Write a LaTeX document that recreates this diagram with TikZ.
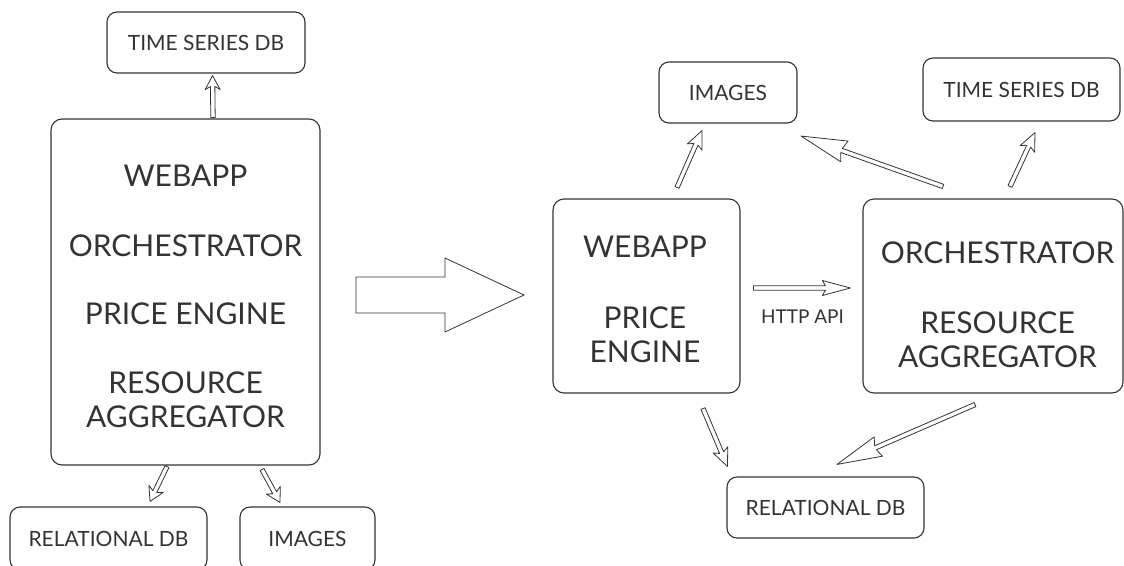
\documentclass[tikz,border=0pt]{standalone}
\usepackage{fontspec}
\setmainfont{Lato}
\usetikzlibrary{calc}
\definecolor{ink}{HTML}{333333}
\tikzset{
  box/.style={draw=ink, line width=1.1pt, rounded corners=11pt, inner sep=0pt},
  smallbox/.style={draw=ink, line width=1.1pt, rounded corners=10pt, text=ink,
    align=center, inner sep=0pt, font=\fontsize{21}{25}\selectfont},
  bigtext/.style={text=ink, align=center, inner sep=0pt,
    font=\fontsize{30}{34}\selectfont},
  flowline/.style={draw=ink, fill=white, line width=0.8pt, line join=round},
}
% hollow arrow from #3 to #4; #1 = head length, #2 = head half-width
\newcommand{\hollowflow}[4]{%
  \path let \p1=(#3), \p2=(#4),
    \n1={atan2(\y2-\y1,\x2-\x1)}, \n2={veclen(\x2-\x1,\y2-\y1)} in
    \pgfextra{\xdef\hfang{\n1}\xdef\hflen{\n2}\xdef\hfx{\x1}\xdef\hfy{\y1}};
  \draw[flowline, shift={(\hfx,\hfy)}, rotate=\hfang]
    (0,2.2) -- ({\hflen-#1+3},2.2) -- ({\hflen-#1},#2) -- (\hflen,0)
    -- ({\hflen-#1},-#2) -- ({\hflen-#1+3},-2.2) -- (0,-2.2) -- cycle;
}
\begin{document}
\begin{tikzpicture}[x=1pt, y=-1pt]
\useasboundingbox (0,0) rectangle (1124,565);

% before: the monolith
\node[smallbox, minimum width=198pt, minimum height=61pt] (tsL) at (206,42.5) {TIME SERIES DB};
\node[box, minimum width=269pt, minimum height=346pt] (mono) at (185.5,292) {};
\node[bigtext] (monoA) at (185.5,176) {WEBAPP};
\node[bigtext] (monoB) at (185.5,245.5) {ORCHESTRATOR};
\node[bigtext] (monoC) at (185.5,313.5) {PRICE ENGINE};
\node[bigtext] (monoD) at (185.5,400) {RESOURCE\\AGGREGATOR};
\node[smallbox, minimum width=197pt, minimum height=63pt] (relL) at (108.5,538.5) {RELATIONAL DB};
\node[smallbox, minimum width=135pt, minimum height=63pt] (imgL) at (307.5,538.5) {IMAGES};

\hollowflow{14}{7.5}{$(mono.north)+(27.5,-1)$}{$(tsL.south)+(6.5,2)$}
\hollowflow{14}{8}{$(mono.south)+(-18.5,1)$}{$(relL.north)+(41.5,-5)$}
\hollowflow{14}{8}{$(mono.south)+(76.5,4)$}{$(imgL.north)+(-27.5,-4)$}

% migration arrow
\draw[draw=ink, line width=0.8pt, line join=miter]
  (356,277) -- (445,277) -- (445,258) -- (524,295) -- (445,332) -- (445,313) -- (356,313) -- cycle;

% after: split services
\node[box, minimum width=187pt, minimum height=194pt] (web) at (646.5,296) {};
\node[bigtext] (webA) at (645,247) {WEBAPP};
\node[bigtext] (webB) at (645,335) {PRICE\\ENGINE};
\node[box, minimum width=260pt, minimum height=194pt] (orch) at (993,296) {};
\node[bigtext] (orchA) at (997.5,253) {ORCHESTRATOR};
\node[bigtext] (orchB) at (997.5,339.5) {RESOURCE\\AGGREGATOR};
\node[smallbox, minimum width=138pt, minimum height=61pt] (imgR) at (728,92.5) {IMAGES};
\node[smallbox, minimum width=197pt, minimum height=63pt] (tsR) at (1021.5,89.5) {TIME SERIES DB};
\node[smallbox, minimum width=197pt, minimum height=61pt] (relR) at (825.5,507.5) {RELATIONAL DB};

\hollowflow{18}{8}{$(web.north)+(30.5,-11)$}{$(imgR.south)+(-26,7)$}
\hollowflow{46}{11}{$(orch.north)+(-50,-12)$}{$(imgR.south east)+(3.5,12.5)$}
\hollowflow{18}{8}{$(orch.north)+(17,-12)$}{$(tsR.south)+(13.5,11)$}
\hollowflow{18}{8}{$(web.south)+(56.5,15)$}{$(relR.north west)+(1,-10)$}
\hollowflow{45}{10.5}{$(orch.south)+(-18,11)$}{$(relR.north)+(11.5,-12)$}
\hollowflow{28}{7.5}{$(web.east)+(13,-8)$}{$(orch.west)+(-12,-8)$}
\node[text=ink, inner sep=0pt, font=\fontsize{19}{22}\selectfont] (api) at (802.5,316.5) {HTTP API};
\end{tikzpicture}
\end{document}
